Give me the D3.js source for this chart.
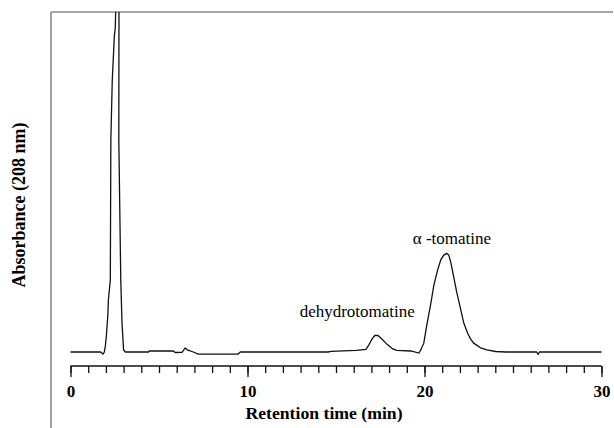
<!DOCTYPE html>
<html>
<head>
<meta charset="utf-8">
<script src="https://cdn.jsdelivr.net/npm/d3@7"></script>
<style>
  html, body { margin: 0; padding: 0; background: #fff; }
  svg { display: block; }
  text { font-family: "Liberation Serif", "Times New Roman", serif; fill: #000; }
</style>
</head>
<body>
<svg id="chart" width="614" height="428"></svg>
<script>
// Chromatogram trace (time in min, absorbance in arbitrary units)
const retentionTime = [
  0, 1.5, 1.69, 1.84, 1.91, 1.97, 2.03, 2.11, 2.14, 2.25, 2.28, 2.36, 2.48, 2.53, 2.57,
  2.74, 2.73, 2.84, 2.91, 3.0, 3.1, 4.4, 4.45, 5.8, 5.92, 6.3, 6.48, 6.6, 6.76, 6.94,
  7.21, 9.47, 9.6, 14.55, 14.72, 16.13, 16.69, 16.86, 17.03, 17.19, 17.37, 17.59, 17.92,
  18.21, 18.44, 19.23, 19.68, 19.79, 19.96, 20.13, 20.36, 20.53, 20.74, 20.92, 21.09,
  21.26, 21.37, 21.48, 21.65, 21.82, 22.05, 22.22, 22.43, 22.61, 22.78, 23.18, 23.52,
  24.02, 24.59, 26.33, 26.42, 26.5, 30
];
const absorbance = [
  0, 0, 0, -0.6, 0, 1.8, 5, 10.9, 15.3, 21.2, 62.4, 80, 93.2, 95.3, 104,
  104, 62.4, 21.2, 8.5, 0.6, 0, 0, 0.3, 0.3, -0.15, -0.1, 1.2, 0.6, 0.3, 0,
  -0.6, -0.6, 0, 0, 0.2, 0.45, 0.75, 2.1, 3.8, 4.85, 4.85, 3.8, 2.1,
  0.9, 0.45, 0.3, -0.3, 0.6, 2.6, 7.9, 14.4, 19.7, 24.1, 27.1, 28.5,
  29.0, 28.5, 26.5, 22.1, 17.6, 12.4, 8.5, 5.6, 3.8, 2.6, 1.2, 0.6,
  0.15, 0, 0, -0.7, 0, 0
];

const xTickValues = [0, 10, 20, 30];
const xMinorTicks = d3.range(0, 31, 1);

const peakNames = ["dehydrotomatine", "\u03b1 -tomatine"];
const peakLabelTimes = [16.2, 21.55];
const peakLabelLevels = [10.3, 31.8];

const xTitle = "Retention time (min)";
const yTitle = "Absorbance (208 nm)";

const svg = d3.select("#chart");

const x = d3.scaleLinear().domain([0, 30]).range([70.5, 601.5]);
const y = d3.scaleLinear().domain([0, 100]).range([352, 12]);
const axisY = 366;

// frame (left and top borders of the plot panel)
svg.append("line")
  .attr("x1", 51).attr("x2", 51).attr("y1", 12).attr("y2", 428)
  .attr("stroke", "#8a8a8a").attr("stroke-width", 1.6);
svg.append("line")
  .attr("x1", 51).attr("x2", 613).attr("y1", 12).attr("y2", 12)
  .attr("stroke", "#8a8a8a").attr("stroke-width", 1.6);

// trace clipped at the top border
svg.append("clipPath").attr("id", "clip")
  .append("rect").attr("x", 52).attr("y", 12).attr("width", 560).attr("height", 400);

const pts = retentionTime.map((t, i) => [t, absorbance[i]]);
svg.append("path")
  .datum(pts)
  .attr("clip-path", "url(#clip)")
  .attr("fill", "none")
  .attr("stroke", "#111")
  .attr("stroke-width", 1.3)
  .attr("d", d3.line().x(d => x(d[0])).y(d => y(d[1])));

// x axis: minor ticks every minute, labels every 10
const gx = svg.append("g").attr("transform", `translate(0,${axisY})`);
gx.call(d3.axisBottom(x).tickValues(xMinorTicks).tickSize(7).tickFormat(""));
gx.call(g => g.selectAll(".tick line").attr("stroke", "#111").attr("stroke-width", 1.3));
const gMajor = svg.append("g").attr("transform", `translate(0,${axisY})`)
  .call(d3.axisBottom(x).tickValues(xTickValues).tickSize(11).tickPadding(8));
gMajor.select(".domain").remove();
gMajor.selectAll(".tick line").attr("stroke", "#111").attr("stroke-width", 1.3);
gMajor.selectAll(".tick text")
  .attr("font-family", "Liberation Serif").attr("font-size", 17).attr("font-weight", "bold")
  .attr("fill", "#000");
gx.select(".domain").attr("stroke", "#111").attr("stroke-width", 1.3)
  .attr("d", `M${x(0)},0H${x(30)}`);

// axis titles
svg.append("text")
  .attr("x", 324).attr("y", 419)
  .attr("text-anchor", "middle")
  .attr("font-size", 17.7).attr("font-weight", "bold")
  .text(xTitle);
svg.append("text")
  .attr("transform", "translate(25,205) rotate(-90)")
  .attr("text-anchor", "middle")
  .attr("font-size", 18).attr("font-weight", "bold")
  .text(yTitle);

// peak labels
svg.selectAll(".peak")
  .data(peakNames)
  .join("text")
  .attr("class", "peak")
  .attr("x", (d, i) => x(peakLabelTimes[i]))
  .attr("y", (d, i) => y(peakLabelLevels[i]))
  .attr("text-anchor", "middle")
  .attr("font-size", 17)
  .text(d => d);
</script>
</body>
</html>
